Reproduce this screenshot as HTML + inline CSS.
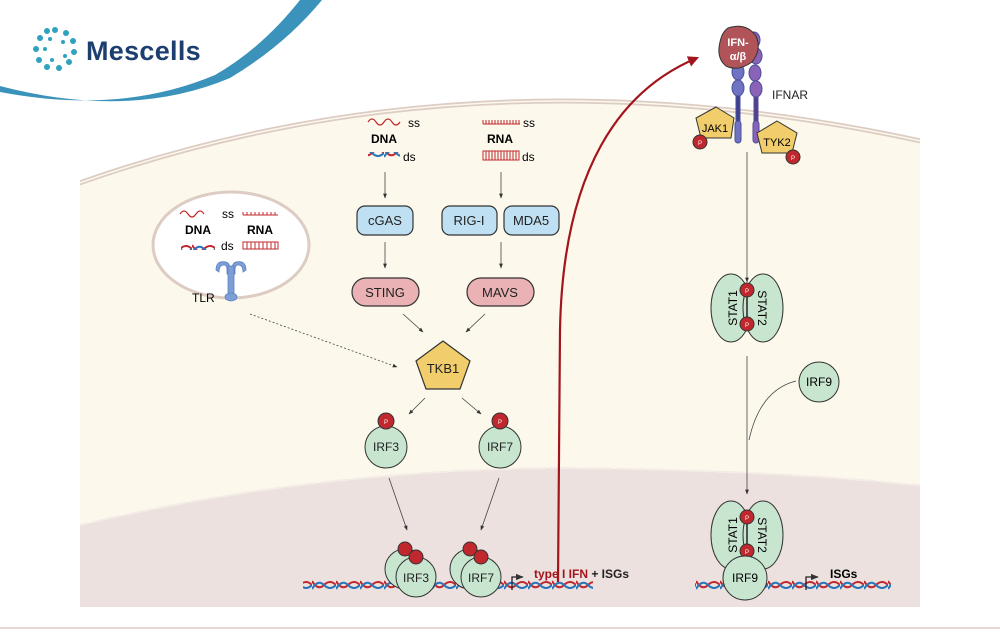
<!DOCTYPE html>
<html><head><meta charset="utf-8"><style>
html,body{margin:0;padding:0;background:#fff;}
svg{display:block;font-family:"Liberation Sans",sans-serif;}
</style></head><body>
<svg width="1000" height="633" viewBox="0 0 1000 633" xmlns="http://www.w3.org/2000/svg">
<defs>
<marker id="a" viewBox="0 0 10 10" refX="9" refY="5" markerWidth="6" markerHeight="6" orient="auto"><path d="M0,1 L10,5 L0,9 z" fill="#333"/></marker>
<marker id="r" viewBox="0 0 10 10" refX="8" refY="5" markerWidth="5" markerHeight="5" orient="auto"><path d="M0,0 L10,5 L0,10 z" fill="#a3151c"/></marker>
<clipPath id="cell"><rect x="80" y="0" width="840" height="607"/></clipPath>
<pattern id="helix" width="24" height="12" patternUnits="userSpaceOnUse" y="579">
<path d="M0,2 Q6,12 12,6 T24,6" fill="none" stroke="#c0282e" stroke-width="2"/>
<path d="M0,10 Q6,0 12,6 T24,6" fill="none" stroke="#2a74b8" stroke-width="2"/>
</pattern>
</defs>
<g clip-path="url(#cell)">
<path d="M60,190 Q480,35 960,150 L960,607 L60,607 Z" fill="#fcf9ec"/>
<path d="M60,190 Q480,35 960,150" fill="none" stroke="#ddccc4" stroke-width="5"/>
<path d="M60,190 Q480,35 960,150" fill="none" stroke="#fcf9ec" stroke-width="1.5"/>
<path d="M60,530 Q300,470 560,468 Q800,470 960,490 L960,607 L60,607 Z" fill="#ece1de"/>
<path d="M60,530 Q300,470 560,468 Q800,470 960,490" fill="none" stroke="#f4ece6" stroke-width="2" stroke-dasharray="30 3"/>
</g>
<line x1="0" y1="628" x2="1000" y2="628" stroke="#ead6d2" stroke-width="2"/>
<path d="M0,86 Q130,120 230,78 Q285,45 322,0 L300,0 Q262,48 215,75 Q120,115 0,92 Z" fill="#3b93bb"/>
<g fill="#2fa2c0">
<circle cx="55" cy="30" r="3"/><circle cx="66" cy="33" r="3"/><circle cx="73" cy="41" r="3"/><circle cx="74" cy="52" r="3"/><circle cx="69" cy="62" r="3"/><circle cx="59" cy="68" r="3"/><circle cx="47" cy="67" r="3"/><circle cx="39" cy="60" r="3"/><circle cx="36" cy="49" r="3"/><circle cx="40" cy="38" r="3"/><circle cx="47" cy="31" r="3"/>
<circle cx="50" cy="39" r="2"/><circle cx="63" cy="42" r="2"/><circle cx="65" cy="56" r="2"/><circle cx="52" cy="60" r="2"/><circle cx="45" cy="49" r="2"/>
</g>
<text x="86" y="60" font-size="27" fill="#1c3f70" font-weight="bold" letter-spacing="0.3">Mescells</text>
<path d="M368,122 q4,-6 8,0 t8,0 t8,0 t8,0" fill="none" stroke="#c0282e" stroke-width="1.2"/>
<text x="408" y="127" font-size="12">ss</text>
<text x="371" y="143" font-size="12" font-weight="bold">DNA</text>
<rect x="368" y="152" width="32" height="8" fill="url(#helix)"/>
<text x="403" y="161" font-size="12">ds</text>
<path d="M483,124 H520 M483,124 v-4 M486,124 v-4 M489,124 v-4 M492,124 v-4 M495,124 v-4 M498,124 v-4 M501,124 v-4 M504,124 v-4 M507,124 v-4 M510,124 v-4 M513,124 v-4 M516,124 v-4 M519,124 v-4" stroke="#c0282e" stroke-width="1"/>
<text x="523" y="127" font-size="12">ss</text>
<text x="487" y="143" font-size="12" font-weight="bold">RNA</text>
<rect x="483" y="151" width="36" height="9" fill="none" stroke="#c0282e" stroke-width="1"/>
<path d="M486,151v9M489,151v9M492,151v9M495,151v9M498,151v9M501,151v9M504,151v9M507,151v9M510,151v9M513,151v9M516,151v9" stroke="#c0282e" stroke-width="1"/>
<text x="522" y="161" font-size="12">ds</text>
<g stroke="#444" stroke-width="0.8" fill="none" marker-end="url(#a)">
<line x1="385" y1="172" x2="385" y2="198"/><line x1="501" y1="172" x2="501" y2="198"/>
<line x1="385" y1="242" x2="385" y2="268"/><line x1="501" y1="242" x2="501" y2="268"/>
<line x1="403" y1="314" x2="423" y2="332"/><line x1="485" y1="314" x2="466" y2="332"/>
<line x1="425" y1="398" x2="409" y2="414"/><line x1="462" y1="398" x2="481" y2="414"/>
<line x1="389" y1="478" x2="407" y2="530"/><line x1="499" y1="478" x2="481" y2="530"/>
<line x1="250" y1="314" x2="397" y2="367" stroke-dasharray="2 2"/>
<line x1="747" y1="152" x2="747" y2="282"/>
<line x1="747" y1="356" x2="747" y2="494"/>
</g>
<path d="M796,381 Q760,390 749,440" fill="none" stroke="#444" stroke-width="0.8"/>
<g stroke="#333" stroke-width="1.2" font-size="13" text-anchor="middle">
<rect x="357" y="206" width="56" height="29" rx="8" fill="#bfe0f2"/><text x="385" y="225" stroke="none" fill="#222">cGAS</text>
<rect x="442" y="206" width="55" height="29" rx="8" fill="#bfe0f2"/><text x="469" y="225" stroke="none" fill="#222">RIG-I</text>
<rect x="504" y="206" width="55" height="29" rx="8" fill="#bfe0f2"/><text x="531" y="225" stroke="none" fill="#222">MDA5</text>
<rect x="352" y="278" width="67" height="28" rx="14" fill="#eab2b4"/><text x="385" y="297" stroke="none" fill="#222">STING</text>
<rect x="467" y="278" width="67" height="28" rx="14" fill="#eab2b4"/><text x="500" y="297" stroke="none" fill="#222">MAVS</text>
<polygon points="443,341 470,361 460,389 426,389 416,361" fill="#f1cd6c"/><text x="443" y="373" stroke="none" fill="#222">TKB1</text>
</g>
<ellipse cx="231" cy="245" rx="78" ry="53" fill="#fff" stroke="#ddccc4" stroke-width="3"/>
<path d="M180,214 q4,-6 8,0 t8,0 t8,0" fill="none" stroke="#c0282e" stroke-width="1.2"/>
<text x="222" y="218" font-size="12">ss</text>
<path d="M243,215 H278 M243,215 v-3 M247,215 v-3 M251,215 v-3 M255,215 v-3 M259,215 v-3 M263,215 v-3 M267,215 v-3 M271,215 v-3 M275,215 v-3" stroke="#c0282e" stroke-width="1"/>
<text x="185" y="234" font-size="12" font-weight="bold">DNA</text>
<text x="247" y="234" font-size="12" font-weight="bold">RNA</text>
<rect x="181" y="242" width="34" height="8" fill="url(#helix)"/>
<text x="221" y="250" font-size="12">ds</text>
<rect x="243" y="242" width="35" height="7" fill="none" stroke="#c0282e"/>
<path d="M247,242v7M251,242v7M255,242v7M259,242v7M263,242v7M267,242v7M271,242v7M275,242v7" stroke="#c0282e"/>
<g fill="#7d9fd6" stroke="#5d80c0" stroke-width="0.8">
<path d="M216,270 q0,-10 10,-8 q4,1 4,8 v4 h-3 v-4 q0,-5 -3,-5 q-5,0 -5,7 z"/>
<path d="M246,270 q0,-10 -10,-8 q-4,1 -4,8 v4 h3 v-4 q0,-5 3,-5 q5,0 5,7 z"/>
<rect x="228" y="266" width="6" height="30"/>
<ellipse cx="231" cy="297" rx="6" ry="4"/>
</g>
<text x="192" y="302" font-size="12">TLR</text>
<g stroke="#333" stroke-width="1">
<circle cx="386" cy="447" r="21" fill="#c8e5cf"/><circle cx="386" cy="421" r="8" fill="#c0282e"/>
<circle cx="500" cy="447" r="21" fill="#c8e5cf"/><circle cx="500" cy="421" r="8" fill="#c0282e"/>
</g>
<g font-size="12" text-anchor="middle" fill="#222">
<text x="386" y="451">IRF3</text><text x="500" y="451">IRF7</text>
<text x="386" y="424" font-size="6" fill="#fff">P</text><text x="500" y="424" font-size="6" fill="#fff">P</text>
</g>
<rect x="303" y="579" width="290" height="12" fill="url(#helix)"/>
<rect x="695" y="579" width="196" height="12" fill="url(#helix)"/>
<g stroke="#333" stroke-width="1">
<circle cx="405" cy="569" r="20" fill="#c8e5cf"/><circle cx="416" cy="577" r="20" fill="#c8e5cf"/>
<circle cx="405" cy="549" r="7" fill="#c0282e"/><circle cx="416" cy="557" r="7" fill="#c0282e"/>
<circle cx="470" cy="569" r="20" fill="#c8e5cf"/><circle cx="481" cy="577" r="20" fill="#c8e5cf"/>
<circle cx="470" cy="549" r="7" fill="#c0282e"/><circle cx="481" cy="557" r="7" fill="#c0282e"/>
</g>
<g font-size="12" text-anchor="middle" fill="#222">
<text x="416" y="582">IRF3</text><text x="481" y="582">IRF7</text>
</g>
<path d="M512,590 V577 H523" fill="none" stroke="#222" stroke-width="1.3" marker-end="url(#a)"/>
<text x="534" y="578" font-size="12" font-weight="bold" fill="#a3151c">type I IFN <tspan fill="#222">+ ISGs</tspan></text>
<path d="M558,582 L560,330 C563,170 620,90 697,58" fill="none" stroke="#a3151c" stroke-width="2.2" marker-end="url(#r)"/>
<g stroke="#4a4f9a" stroke-width="1">
<rect x="736" y="95" width="4" height="47" fill="#3c3f90"/>
<rect x="754" y="95" width="4" height="47" fill="#5a3e8e"/>
<ellipse cx="738" cy="72" rx="6" ry="8" fill="#6f73c2"/><ellipse cx="738" cy="88" rx="6" ry="8" fill="#6f73c2"/>
<ellipse cx="754" cy="40" rx="6" ry="8" fill="#8a62b8"/><ellipse cx="756" cy="56" rx="6" ry="8" fill="#8a62b8"/><ellipse cx="755" cy="73" rx="6" ry="8" fill="#8a62b8"/><ellipse cx="756" cy="89" rx="6" ry="8" fill="#8a62b8"/>
<rect x="735" y="121" width="6" height="22" rx="3" fill="#6f73c2"/><rect x="753" y="121" width="6" height="22" rx="3" fill="#8a62b8"/>
</g>
<path d="M728,28 q18,-6 28,8 q6,14 -4,26 q-14,10 -26,4 q-10,-8 -6,-24 q2,-10 8,-14z" fill="#b0545a" stroke="#333"/>
<text x="738" y="46" font-size="11" font-weight="bold" fill="#fff" text-anchor="middle">IFN-</text>
<text x="738" y="60" font-size="11" font-weight="bold" fill="#fff" text-anchor="middle">α/β</text>
<text x="772" y="99" font-size="12" fill="#222">IFNAR</text>
<g stroke="#333" stroke-width="1">
<polygon points="716,107 734,118 731,138 701,138 696,118" fill="#f1cd6c"/>
<polygon points="777,121 797,133 792,153 762,153 757,133" fill="#f1cd6c"/>
<circle cx="700" cy="142" r="7" fill="#c0282e"/><circle cx="793" cy="157" r="7" fill="#c0282e"/>
</g>
<text x="715" y="132" font-size="11" text-anchor="middle">JAK1</text>
<text x="777" y="146" font-size="11" text-anchor="middle">TYK2</text>
<text x="700" y="145" font-size="6" fill="#fff" text-anchor="middle">P</text>
<text x="793" y="160" font-size="6" fill="#fff" text-anchor="middle">P</text>
<g id="st">
<ellipse cx="731" cy="308" rx="20" ry="34" fill="#c8e5cf" stroke="#333"/>
<ellipse cx="763" cy="308" rx="20" ry="34" fill="#c8e5cf" stroke="#333"/>
<line x1="747" y1="290" x2="747" y2="324" stroke="#222" stroke-width="1.5"/>
<circle cx="747" cy="290" r="7" fill="#c0282e" stroke="#333"/><circle cx="747" cy="324" r="7" fill="#c0282e" stroke="#333"/>
<text x="747" y="293" font-size="6" fill="#fff" text-anchor="middle">P</text><text x="747" y="327" font-size="6" fill="#fff" text-anchor="middle">P</text>
<text transform="translate(737,308) rotate(-90)" font-size="12" text-anchor="middle">STAT1</text>
<text transform="translate(758,308) rotate(90)" font-size="12" text-anchor="middle">STAT2</text>
</g>
<use href="#st" transform="translate(0,227)"/>
<circle cx="819" cy="382" r="20" fill="#c8e5cf" stroke="#333"/>
<text x="819" y="386" font-size="12" text-anchor="middle">IRF9</text>
<circle cx="745" cy="578" r="22" fill="#c8e5cf" stroke="#333"/>
<text x="745" y="582" font-size="12" text-anchor="middle">IRF9</text>
<path d="M806,590 V577 H818" fill="none" stroke="#222" stroke-width="1.3" marker-end="url(#a)"/>
<text x="830" y="578" font-size="12" font-weight="bold">ISGs</text>
</svg>
</body></html>
